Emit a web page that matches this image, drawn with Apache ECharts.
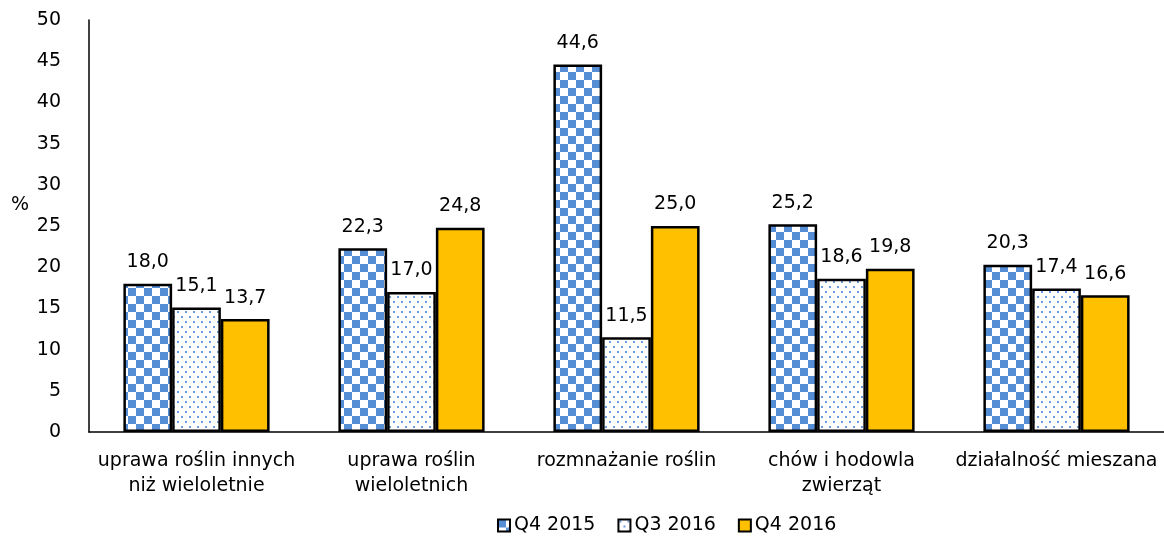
<!DOCTYPE html>
<html><head><meta charset="utf-8">
<script src="https://cdn.jsdelivr.net/npm/echarts@6/dist/echarts.min.js"></script>
<style>html,body{margin:0;padding:0;background:#fff}#c{width:1164px;height:540px}</style>
</head><body><div id="c"></div>
<script>
const categories = ['uprawa roślin innych\nniż wieloletnie', 'uprawa roślin\nwieloletnich', 'rozmnażanie roślin', 'chów i hodowla\nzwierząt', 'działalność mieszana'];
const seriesNames = ['Q4 2015', 'Q3 2016', 'Q4 2016'];
const q4_2015 = [18.0, 22.3, 44.6, 25.2, 20.3];
const q3_2016 = [15.1, 17.0, 11.5, 18.6, 17.4];
const q4_2016 = [13.7, 24.8, 25.0, 19.8, 16.6];
const yTicks = [0, 5, 10, 15, 20, 25, 30, 35, 40, 45, 50];

const FONT = 'DejaVu Sans';
const FS = 19;

function checker() {
  const c = document.createElement('canvas'); c.width = 16; c.height = 16;
  const g = c.getContext('2d');
  g.fillStyle = '#fff'; g.fillRect(0, 0, 16, 16);
  g.fillStyle = '#558ed5'; g.fillRect(0, 0, 8, 8); g.fillRect(8, 8, 8, 8);
  return c;
}
function dots() {
  const c = document.createElement('canvas'); c.width = 8; c.height = 10;
  const g = c.getContext('2d');
  g.fillStyle = '#fff'; g.fillRect(0, 0, 8, 10);
  g.fillStyle = '#6a9ee2';
  g.fillRect(1, 1, 2, 2); g.fillRect(5, 6, 2, 2);
  return c;
}

const chart = echarts.init(document.getElementById('c'));
const labelCfg = {
  show: true, position: 'top', distance: 12, color: '#000', fontFamily: FONT, fontSize: FS,
  formatter: p => p.value.toFixed(1).replace('.', ',')
};
const base = (name, data, color) => ({
  name, type: 'bar', data, barGap: '0%', barCategoryGap: '32%',
  itemStyle: { color, borderColor: '#000', borderWidth: 2.5 },
  label: labelCfg
});
chart.setOption({
  animation: false,
  grid: { left: 89, top: 20, right: -8, bottom: 108 },
  legend: {
    bottom: 0, left: 492, itemWidth: 12, itemHeight: 12, itemGap: 22,
    icon: 'rect',
    textStyle: { fontFamily: FONT, fontSize: FS, color: '#000', padding: [0, 0, 0, -1] },
    data: seriesNames
  },
  graphic: [{ type: 'text', left: 11, top: 196, style: { text: '%', fontFamily: FONT, fontSize: FS, fill: '#000' } }],
  xAxis: {
    type: 'category', data: categories,
    axisLine: { lineStyle: { color: '#000', width: 1.5 } },
    axisTick: { show: false },
    axisLabel: { color: '#000', fontFamily: FONT, fontSize: FS, lineHeight: 25, margin: 17, interval: 0 }
  },
  yAxis: {
    type: 'value', min: yTicks[0], max: yTicks[yTicks.length - 1], interval: 5,
    axisLine: { show: true, lineStyle: { color: '#000', width: 1.5 } },
    axisTick: { show: false },
    splitLine: { show: false },
    axisLabel: { color: '#000', fontFamily: FONT, fontSize: FS, margin: 28 }
  },
  series: [
    base(seriesNames[0], q4_2015, { image: checker(), repeat: 'repeat' }),
    base(seriesNames[1], q3_2016, { image: dots(), repeat: 'repeat' }),
    base(seriesNames[2], q4_2016, '#ffc000')
  ]
});
</script></body></html>
